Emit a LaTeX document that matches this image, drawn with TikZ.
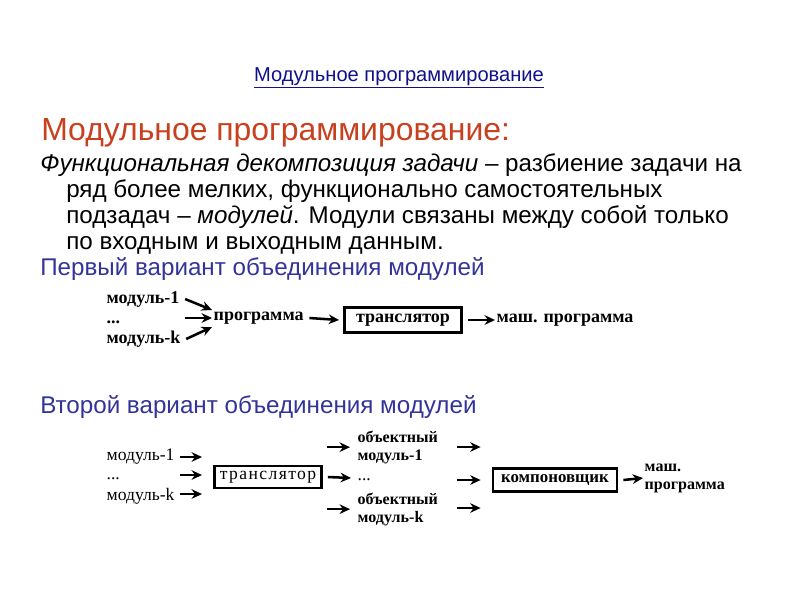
\documentclass[tikz,border=0pt]{standalone}
\usepackage{fontspec}
\setmainfont{Liberation Sans}
\newfontfamily\dgfont{Liberation Serif}
\usepackage{tikz}
\usetikzlibrary{arrows.meta,positioning}
\definecolor{headred}{HTML}{C8401E}
\definecolor{subblue}{HTML}{333399}
\definecolor{linkblue}{HTML}{10108A}
\newdimen\upx \upx=0.025cm

\begin{document}
\begin{tikzpicture}[x=0.025cm,y=-0.025cm,
			txt/.style={anchor=base west,inner sep=0pt,font=\fontsize{17.2}{20}\selectfont},
			sub/.style={anchor=base west,inner sep=0pt,text=subblue,font=\fontsize{17.2}{20}\selectfont},
			mod/.style={inner sep=1pt,font=\dgfont\bfseries\fontsize{12.8}{14}\selectfont},
			modb/.style={inner sep=1pt,align=left,font=\dgfont\fontsize{12.5}{14}\selectfont},
			modbb/.style={modb,font=\dgfont\bfseries\fontsize{11.4}{12.8}\selectfont},
			box/.style={draw,line width=2pt,inner sep=0pt},
			arr/.style={-{Stealth[length=2.6mm,width=2.4mm]},line width=1.8pt}
			]
			\useasboundingbox[fill=white] (0,0) rectangle (800,600);
			\node[anchor=base,inner sep=0pt,text=linkblue,font=\fontsize{14.3}{16}\selectfont] (link) at (399,81) {\underline{Модульное программирование}};
			\node[anchor=base west,inner sep=0pt,text=headred,font=\fontsize{22.7}{26}\selectfont] (head) at (41,140) {Модульное программирование:};
			\node[txt] (l1) at (40,171) {\textit{Функциональная декомпозиция задачи} – разбиение задачи на};
			\node[txt] (l2) at (66,197) {ряд более мелких, функционально самостоятельных};
			\node[txt] (l3) at (66,223) {подзадач – \textit{модулей}. Модули связаны между собой только};
			\node[txt] (l4) at (66,249) {по входным и выходным данным.};
			\node[sub] (v1) at (40,275) {Первый вариант объединения модулей};
			\node[sub] (v2) at (40,413) {Второй вариант объединения модулей};
			% first variant
			\node[mod,anchor=west] (a1) at (105,299) {модуль-1};
			\node[mod,anchor=west] (ad) at (105,322) {...};
			\node[mod,anchor=west] (ak) at (105,339) {модуль-k};
			\node[mod,anchor=west] (prog) at (212,318) {программа};
			\node[mod,box,minimum width=117\upx,minimum height=25\upx] (tr1) at (403,320) {транслятор};
			\node[mod,anchor=west] (out1) at (495,320) {маш. программа};
			\draw[arr] ([xshift=4\upx]a1.east) -- ([yshift=8\upx]prog.west);
			\draw[arr] ([xshift=80\upx,yshift=4\upx]ad.west) -- (prog.west);
			\draw[arr] ([xshift=4\upx]ak.east) -- ([yshift=-9\upx]prog.west);
			\draw[arr] ([xshift=4\upx]prog.east) -- ([xshift=-4\upx]tr1.west);
			\draw[arr] ([xshift=5\upx]tr1.east) -- (out1.west);
			% second variant
			\node[modb,anchor=west] (b1) at (105,457) {модуль-1};
			\node[modb,anchor=west] (bd) at (105,479) {...};
			\node[modb,anchor=west] (bk) at (105,496) {модуль-k};
			\node[box,minimum width=107\upx,minimum height=22\upx,font=\dgfont\fontsize{12.5}{14}\selectfont] (tr2) at (268,477) {\addfontfeatures{LetterSpace=8}транслятор};
			\node[modbb,anchor=north west] (o1) at (356,429) {объектный\\модуль-1};
			\node[modb,anchor=west] (od) at (356,480) {...};
			\node[modbb,anchor=north west] (ok) at (356,491) {объектный\\модуль-k};
			\node[box,minimum width=124\upx,minimum height=23\upx,font=\dgfont\bfseries\fontsize{12}{13}\selectfont] (kmp) at (555,480) {компоновщик};
			\node[modbb,anchor=west] (out2) at (643,478) {маш.\\программа};
			\draw[arr] ([xshift=75\upx]b1.west) -- ([xshift=97\upx]b1.west);
			\draw[arr] ([xshift=75\upx,yshift=4\upx]bd.west) -- ([xshift=97\upx,yshift=4\upx]bd.west);
			\draw[arr] ([xshift=75\upx,yshift=2\upx]bk.west) -- ([xshift=97\upx,yshift=2\upx]bk.west);
			\draw[arr] ([xshift=-29\upx]o1.west) -- ([xshift=-6\upx]o1.west);
			\draw[arr] ([xshift=5\upx]tr2.east) -- ([xshift=-5\upx,yshift=2\upx]od.west);
			\draw[arr] ([xshift=-29\upx]ok.west) -- ([xshift=-6\upx]ok.west);
			\draw[arr] ([xshift=-35\upx,yshift=33\upx]kmp.west) -- ([xshift=-11\upx,yshift=33\upx]kmp.west);
			\draw[arr] ([xshift=-35\upx]kmp.west) -- ([xshift=-11\upx]kmp.west);
			\draw[arr] ([xshift=-35\upx,yshift=-28\upx]kmp.west) -- ([xshift=-11\upx,yshift=-28\upx]kmp.west);
			\draw[arr] ([xshift=5\upx]kmp.east) -- (out2.west);
		\end{tikzpicture}
\end{document}
